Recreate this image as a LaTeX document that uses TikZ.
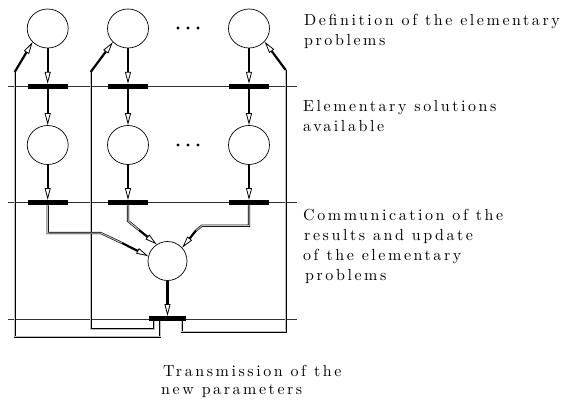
\documentclass[tikz,border=0pt]{standalone}
\usepackage{fontspec}
\newfontfamily\lblfont[LetterSpace=16]{lmroman10-regular.otf}
\usetikzlibrary{arrows.meta,shapes.geometric}
\begin{document}
\begin{tikzpicture}[x=1pt,y=-1pt,
  place/.style={draw, line width=0.7pt, ellipse, minimum width=41pt, minimum height=39pt, inner sep=0pt},
  trans/.style={fill=black, minimum width=40pt, minimum height=5pt, inner sep=0pt},
  flow/.style={line width=2.2pt, -{Triangle[open, length=12pt, width=6pt, line width=0.8pt]}},
  dbl/.style={draw=black, line width=0.6pt, double=black!25, double distance=1pt},
  rule/.style={line width=0.6pt, draw=black!80},
  dot/.style={circle, fill=black, inner sep=0pt, minimum size=3.4pt},
  lbl/.style={anchor=base west, inner sep=0pt, font=\fontsize{16}{20}\lblfont}]
\useasboundingbox (0,0) rectangle (566,402);

% separator rules
\coordinate (L1a) at (8,86.3);  \coordinate (L1b) at (297,86.3);
\coordinate (L2a) at (8,202.7); \coordinate (L2b) at (297,202.7);
\coordinate (L3a) at (8,319);   \coordinate (L3b) at (297,319);
\draw[rule] (L1a) -- (L1b);
\draw[rule] (L2a) -- (L2b);
\draw[rule] (L3a) -- (L3b);

% places
\node[place] (P1) at (47.7,28.5) {};
\node[place] (P2) at (128,28.5) {};
\node[place] (P3) at (249,28.5) {};
\node[place] (Q1) at (47.7,145) {};
\node[place] (Q2) at (128,145) {};
\node[place] (Q3) at (249,145) {};
\node[place, minimum width=39pt] (R) at (167.5,261) {};

% dots
\node[dot] (d1) at (178,28) {};
\node[dot] (d2) at (188,28) {};
\node[dot] (d3) at (198,28) {};
\node[dot] (e1) at (178,145) {};
\node[dot] (e2) at (188,145) {};
\node[dot] (e3) at (198,145) {};

% transitions
\node[trans] (T1a) at (47.7,86.5) {};
\node[trans] (T1b) at (128,86.5) {};
\node[trans] (T1c) at (249,86.5) {};
\node[trans] (T2a) at (47.7,202.7) {};
\node[trans] (T2b) at (128,202.7) {};
\node[trans] (T2c) at (249,202.7) {};
\node[trans, minimum width=37pt] (T3) at (167.5,318.7) {};

% feedback lines
\draw[dbl] ([xshift=-7.5pt]T3.south) |- (14.7,336.7) -- (14.7,72);
\draw[flow] (14.7,72) -- (P1.222);
\draw[dbl] ([xshift=-13.5pt]T3.south) |- (90.7,329) -- (90.7,72);
\draw[flow] (90.7,72) -- (P2.222);
\draw[dbl] ([xshift=14.2pt]T3.south) |- (285.7,331.7) -- (285.7,70);
\draw[flow] (285.7,70) -- (P3.-40);

% vertical flows
\draw[flow] (P1.south) -- (T1a.north);
\draw[flow] (T1a.south) -- (Q1.north);
\draw[flow] (Q1.south) -- (T2a.north);
\draw[flow] (P2.south) -- (T1b.north);
\draw[flow] (T1b.south) -- (Q2.north);
\draw[flow] (Q2.south) -- (T2b.north);
\draw[flow] (P3.south) -- (T1c.north);
\draw[flow] (T1c.south) -- (Q3.north);
\draw[flow] (Q3.south) -- (T2c.north);

% communication
\draw[dbl] (T2a.south) |- (100.7,233) -- (122,243);
\draw[flow] (122,243) -- (R.166);
\draw[dbl] (T2b.south) -- (128,221) -- (139,230);
\draw[flow] (139,230) -- (R.123);
\draw[dbl] (T2c.south) |- (202,225.7) -- (196,230.5);
\draw[flow] (196,230.5) -- (R.42);
\draw[flow] (R.south) -- (T3.north);

% labels
\node[lbl] (t1) at (304,25) {Definition of the elementary};
\node[lbl] (t2) at (304,45) {problems};
\node[lbl] (t3) at (303,111.7) {Elementary solutions};
\node[lbl] (t4) at (303,131.7) {available};
\node[lbl] (t5) at (303,220) {Communication of the};
\node[lbl] (t6) at (304,240) {results and update};
\node[lbl] (t7) at (303,260) {of the elementary};
\node[lbl] (t8) at (305,280) {problems};
\node[lbl] (t9) at (163,376) {Transmission of the};
\node[lbl] (t10) at (161,394) {new parameters};
\end{tikzpicture}
\end{document}
